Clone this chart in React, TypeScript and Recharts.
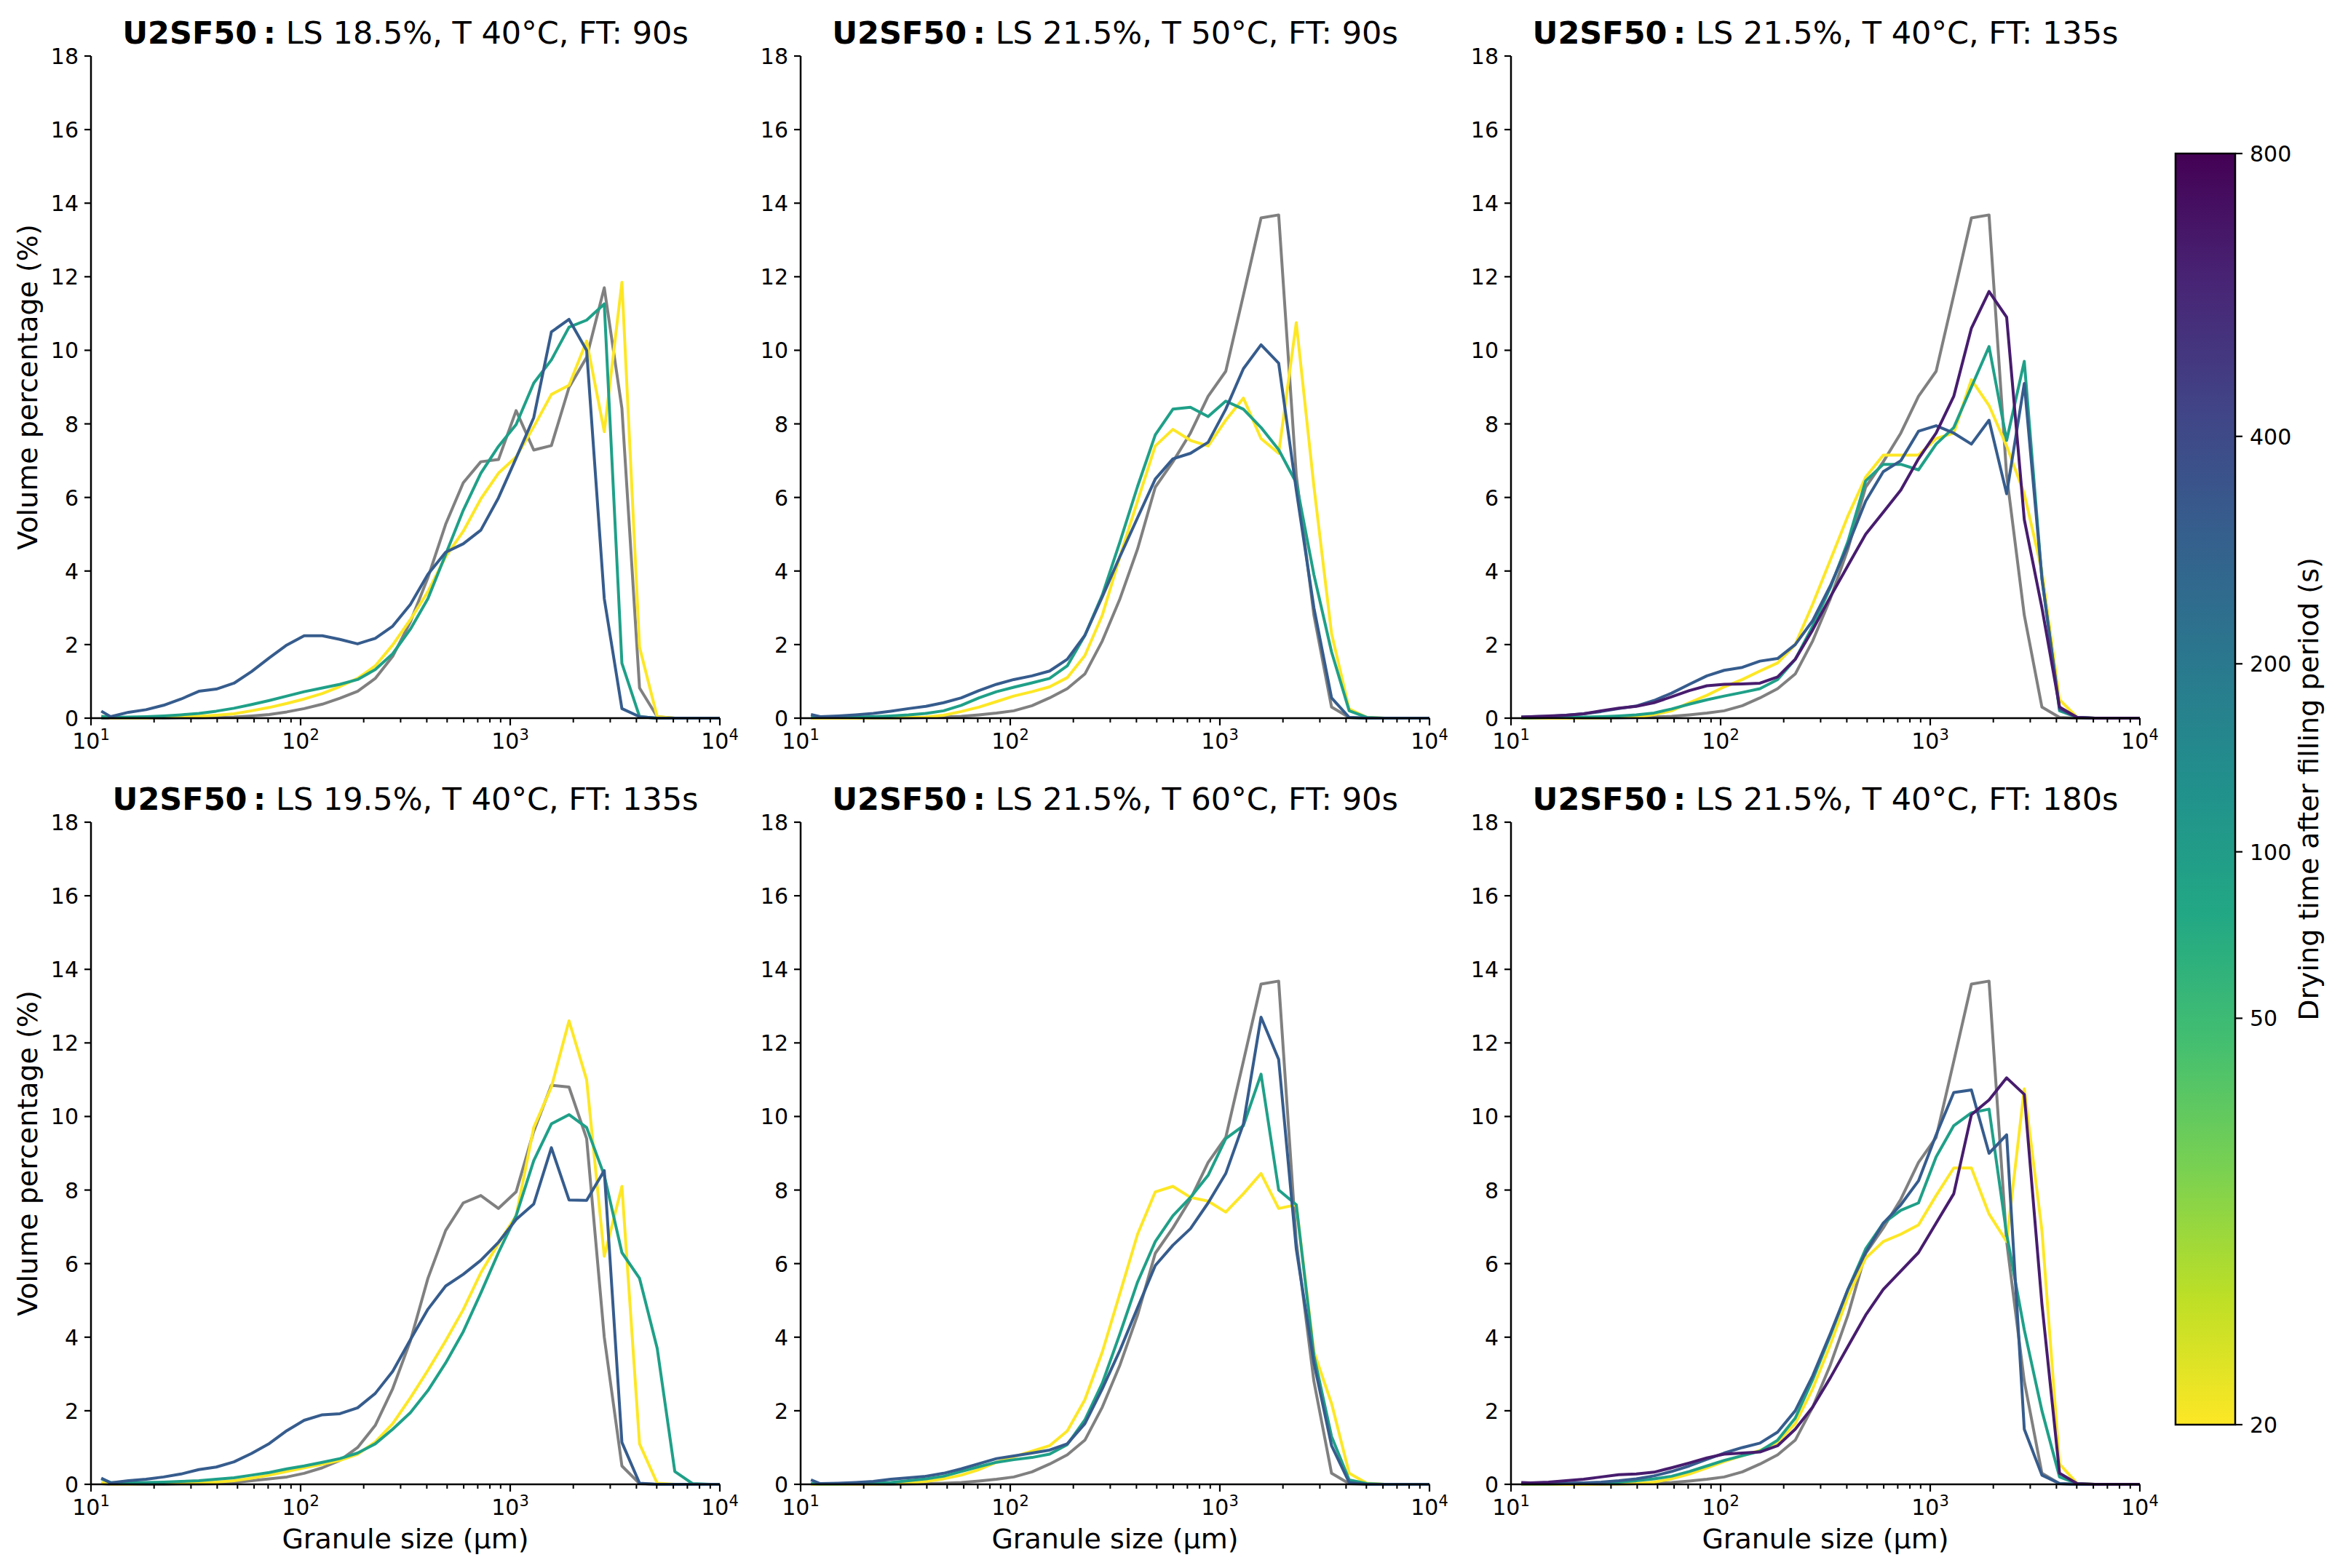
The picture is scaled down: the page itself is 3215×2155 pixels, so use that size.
import { LineChart, Line, XAxis, YAxis } from "recharts";

// granule size classes (µm), shared by all panels
const sizes = [
  11.2, 12.4, 15.1, 18.3, 22.2, 26.9, 32.7, 39.6, 48.1, 58.4, 70.9, 86.0, 104,
  127, 154, 187, 227, 275, 334, 405, 492, 597, 724, 879, 1067, 1295, 1572, 1908,
  2315, 2810, 3411, 4140, 5025, 6098, 7402, 8984, 10904,
];

const majorTicks = [10, 100, 1000, 10000];
const minorTicks = [
  20, 30, 40, 50, 60, 70, 80, 90, 200, 300, 400, 500, 600, 700, 800, 900, 2000,
  3000, 4000, 5000, 6000, 7000, 8000, 9000,
];
const yTicks = [0, 2, 4, 6, 8, 10, 12, 14, 16, 18];
const cbTicks = [20, 50, 100, 200, 400, 800];

// reference curve (grey) used in the 21.5% panels
const refGrey = [0, 0, 0, 0, 0, 0, 0.01, 0.02, 0.03, 0.05, 0.09, 0.14, 0.2, 0.34, 0.55, 0.8, 1.2, 2.1, 3.25, 4.6, 6.28, 6.97, 7.75, 8.75, 9.43, 11.5, 13.6, 13.68, 6.6, 2.8, 0.3, 0.02, 0, 0, 0, 0, 0];

const p1Grey = [0, 0, 0, 0, 0, 0.01, 0.01, 0.02, 0.03, 0.06, 0.1, 0.17, 0.26, 0.38, 0.54, 0.73, 1.08, 1.68, 2.62, 3.82, 5.27, 6.4, 6.97, 7.03, 8.36, 7.29, 7.41, 8.99, 9.81, 11.7, 8.42, 0.82, 0.04, 0, 0, 0, 0];
const p1Yellow = [0.05, 0.01, 0.01, 0.01, 0.02, 0.03, 0.05, 0.08, 0.12, 0.2, 0.29, 0.4, 0.52, 0.67, 0.86, 1.08, 1.42, 1.99, 2.68, 3.44, 4.39, 5.08, 5.96, 6.66, 7.1, 7.92, 8.8, 9.05, 10.25, 7.79, 11.85, 1.93, 0.04, 0, 0, 0, 0];
const p1Teal = [0.05, 0.02, 0.03, 0.04, 0.06, 0.09, 0.13, 0.19, 0.27, 0.37, 0.48, 0.6, 0.72, 0.82, 0.92, 1.05, 1.32, 1.75, 2.42, 3.25, 4.45, 5.65, 6.66, 7.39, 7.98, 9.11, 9.74, 10.63, 10.82, 11.26, 1.49, 0.04, 0, 0, 0, 0, 0];
const p1Blue = [0.19, 0.04, 0.16, 0.23, 0.35, 0.52, 0.73, 0.79, 0.95, 1.27, 1.64, 1.99, 2.24, 2.24, 2.14, 2.02, 2.17, 2.5, 3.09, 3.91, 4.51, 4.74, 5.11, 5.99, 7.07, 8.17, 10.5, 10.84, 10.0, 3.25, 0.26, 0.04, 0, 0, 0, 0, 0];

const p2Yellow = [0, 0, 0, 0, 0.01, 0.01, 0.02, 0.03, 0.08, 0.18, 0.3, 0.45, 0.6, 0.72, 0.85, 1.1, 1.7, 2.8, 4.4, 5.9, 7.4, 7.85, 7.55, 7.4, 8.1, 8.7, 7.6, 7.2, 10.75, 6.3, 2.3, 0.25, 0.02, 0, 0, 0, 0];
const p2Teal = [0.03, 0.02, 0.02, 0.03, 0.04, 0.06, 0.09, 0.13, 0.2, 0.35, 0.55, 0.72, 0.84, 0.96, 1.08, 1.42, 2.25, 3.35, 4.8, 6.3, 7.7, 8.4, 8.45, 8.2, 8.62, 8.4, 7.9, 7.3, 6.4, 3.9, 1.8, 0.2, 0.02, 0, 0, 0, 0];
const p2Blue = [0.1, 0.04, 0.06, 0.09, 0.13, 0.19, 0.26, 0.32, 0.42, 0.55, 0.75, 0.92, 1.05, 1.15, 1.28, 1.6, 2.25, 3.3, 4.4, 5.45, 6.5, 7.05, 7.2, 7.5, 8.4, 9.5, 10.15, 9.65, 6.2, 3.0, 0.55, 0.02, 0, 0, 0, 0, 0];

const p3Yellow = [0, 0, 0, 0, 0.01, 0.01, 0.02, 0.03, 0.1, 0.2, 0.42, 0.62, 0.85, 1.05, 1.28, 1.5, 2.0, 3.1, 4.3, 5.5, 6.55, 7.15, 7.15, 7.15, 7.6, 7.75, 9.2, 8.5, 7.4, 6.1, 4.0, 0.5, 0.02, 0, 0, 0, 0];
const p3Teal = [0.01, 0.01, 0.02, 0.02, 0.03, 0.04, 0.06, 0.09, 0.14, 0.25, 0.38, 0.5, 0.6, 0.7, 0.8, 1.05, 1.6, 2.5, 3.55, 4.8, 6.45, 6.9, 6.9, 6.75, 7.45, 7.9, 9.0, 10.1, 7.55, 9.7, 3.8, 0.2, 0.02, 0, 0, 0, 0];
const p3Blue = [0.03, 0.04, 0.05, 0.08, 0.12, 0.18, 0.26, 0.33, 0.48, 0.68, 0.92, 1.15, 1.3, 1.38, 1.55, 1.62, 2.0, 2.65, 3.6, 4.7, 5.9, 6.7, 7.0, 7.8, 7.95, 7.75, 7.45, 8.1, 6.1, 9.1, 3.8, 0.25, 0.02, 0, 0, 0, 0];
const p3Purple = [0.03, 0.04, 0.06, 0.08, 0.12, 0.2, 0.27, 0.32, 0.42, 0.58, 0.75, 0.88, 0.92, 0.93, 0.95, 1.12, 1.6, 2.4, 3.3, 4.15, 5.0, 5.6, 6.2, 7.05, 7.75, 8.75, 10.6, 11.6, 10.9, 5.4, 3.0, 0.3, 0.02, 0, 0, 0, 0];

const p4Grey = [0.02, 0, 0, 0, 0, 0.01, 0.01, 0.02, 0.05, 0.1, 0.15, 0.2, 0.3, 0.45, 0.65, 1.0, 1.6, 2.6, 3.9, 5.6, 6.9, 7.65, 7.85, 7.5, 7.95, 9.6, 10.85, 10.8, 9.4, 4.0, 0.5, 0.02, 0, 0, 0, 0, 0];
const p4Yellow = [0.05, 0.01, 0.01, 0.02, 0.02, 0.03, 0.04, 0.06, 0.1, 0.17, 0.25, 0.35, 0.45, 0.55, 0.65, 0.82, 1.15, 1.65, 2.35, 3.1, 3.9, 4.75, 5.75, 6.55, 7.3, 9.7, 10.8, 12.6, 11.0, 6.2, 8.1, 1.1, 0.03, 0, 0, 0, 0];
const p4Teal = [0.15, 0.05, 0.04, 0.05, 0.06, 0.08, 0.1, 0.14, 0.18, 0.25, 0.32, 0.42, 0.5, 0.6, 0.7, 0.85, 1.1, 1.5, 1.95, 2.55, 3.3, 4.15, 5.2, 6.3, 7.3, 8.8, 9.8, 10.05, 9.7, 8.4, 6.3, 5.6, 3.7, 0.35, 0.02, 0, 0];
const p4Blue = [0.17, 0.04, 0.1, 0.14, 0.2, 0.28, 0.4, 0.47, 0.61, 0.84, 1.11, 1.46, 1.74, 1.89, 1.92, 2.08, 2.47, 3.07, 3.93, 4.76, 5.39, 5.71, 6.09, 6.58, 7.2, 7.62, 9.15, 7.73, 7.72, 8.53, 1.14, 0.03, 0, 0, 0, 0, 0];

const p5Yellow = [0, 0, 0, 0.01, 0.01, 0.02, 0.04, 0.08, 0.15, 0.25, 0.4, 0.6, 0.75, 0.9, 1.05, 1.45, 2.3, 3.6, 5.2, 6.8, 7.95, 8.1, 7.8, 7.7, 7.4, 7.9, 8.45, 7.5, 7.6, 3.6, 2.2, 0.3, 0.03, 0, 0, 0, 0];
const p5Teal = [0.02, 0.01, 0.01, 0.02, 0.03, 0.05, 0.1, 0.15, 0.22, 0.35, 0.48, 0.6, 0.67, 0.73, 0.82, 1.08, 1.75, 2.75, 4.1, 5.5, 6.6, 7.3, 7.8, 8.4, 9.4, 9.75, 11.15, 8.0, 7.6, 3.5, 1.3, 0.12, 0.02, 0, 0, 0, 0];
const p5Blue = [0.12, 0.02, 0.03, 0.05, 0.08, 0.14, 0.18, 0.22, 0.3, 0.42, 0.56, 0.7, 0.77, 0.85, 0.93, 1.1, 1.65, 2.6, 3.65, 4.8, 5.95, 6.5, 6.95, 7.65, 8.45, 9.8, 12.7, 11.55, 6.4, 3.3, 1.05, 0.05, 0, 0, 0, 0, 0];

const p6Yellow = [0, 0, 0, 0, 0, 0.01, 0.01, 0.02, 0.06, 0.15, 0.28, 0.45, 0.62, 0.78, 0.92, 1.15, 1.65, 2.6, 3.8, 5.1, 6.15, 6.6, 6.8, 7.05, 7.85, 8.6, 8.6, 7.35, 6.6, 10.75, 6.9, 0.55, 0.02, 0, 0, 0, 0];
const p6Teal = [0.01, 0.01, 0.01, 0.02, 0.03, 0.04, 0.06, 0.1, 0.15, 0.22, 0.35, 0.5, 0.65, 0.78, 0.9, 1.2, 1.8, 2.85, 4.05, 5.3, 6.4, 7.1, 7.45, 7.65, 8.9, 9.75, 10.1, 10.2, 6.8, 4.2, 2.0, 0.2, 0.02, 0, 0, 0, 0];
const p6Blue = [0.02, 0.02, 0.02, 0.03, 0.04, 0.06, 0.1, 0.15, 0.23, 0.35, 0.5, 0.68, 0.85, 1.0, 1.12, 1.42, 2.0, 2.95, 4.1, 5.3, 6.3, 7.1, 7.6, 8.25, 9.5, 10.65, 10.72, 9.0, 9.5, 1.5, 0.25, 0.02, 0, 0, 0, 0, 0];
const p6Purple = [0.05, 0.04, 0.06, 0.1, 0.14, 0.2, 0.26, 0.28, 0.33, 0.45, 0.58, 0.72, 0.82, 0.85, 0.88, 1.05, 1.5, 2.1, 2.9, 3.75, 4.6, 5.3, 5.8, 6.3, 7.1, 7.9, 10.05, 10.45, 11.05, 10.6, 4.9, 0.3, 0.02, 0, 0, 0, 0];

const GREY = "#808080";
const YELLOW = "#fde725";
const TEAL = "#1fa088";
const BLUE = "#365c8d";
const PURPLE = "#471c6e";

const panels = [
  { title: "LS 18.5%, T 40°C, FT: 90s", series: [[p1Grey, GREY], [p1Yellow, YELLOW], [p1Teal, TEAL], [p1Blue, BLUE]] },
  { title: "LS 21.5%, T 50°C, FT: 90s", series: [[refGrey, GREY], [p2Yellow, YELLOW], [p2Teal, TEAL], [p2Blue, BLUE]] },
  { title: "LS 21.5%, T 40°C, FT: 135s", series: [[refGrey, GREY], [p3Yellow, YELLOW], [p3Teal, TEAL], [p3Blue, BLUE], [p3Purple, PURPLE]] },
  { title: "LS 19.5%, T 40°C, FT: 135s", series: [[p4Grey, GREY], [p4Yellow, YELLOW], [p4Teal, TEAL], [p4Blue, BLUE]] },
  { title: "LS 21.5%, T 60°C, FT: 90s", series: [[refGrey, GREY], [p5Yellow, YELLOW], [p5Teal, TEAL], [p5Blue, BLUE]] },
  { title: "LS 21.5%, T 40°C, FT: 180s", series: [[refGrey, GREY], [p6Yellow, YELLOW], [p6Teal, TEAL], [p6Blue, BLUE], [p6Purple, PURPLE]] },
];

const viridis = ["#440154", "#482475", "#414487", "#355f8d", "#2a788e", "#21918c", "#22a884", "#44bf70", "#7ad151", "#bddf26", "#fde725"];

const FONT = "DejaVu Sans";
const PLOT_W = 864;
const PLOT_H = 910;
const PAD_TOP = 30;
const colLeft = [125, 1100, 2076];
const rowTop = [77, 1130];
const CB = { x: 2989, w: 82, top: 211, bottom: 1958 };

// colour norm of the bar (power norm, gamma ~0.35)
const cbPos = (t: number) => CB.bottom - Math.pow((t - 20) / 780, 0.35) * (CB.bottom - CB.top);

function XTick(props: any) {
  const { x, y, payload } = props;
  const v = payload.value;
  if (!majorTicks.includes(v)) {
    return <line x1={x} x2={x} y1={y} y2={y + 6} stroke="#000" strokeWidth={2} />;
  }
  const exp = Math.round(Math.log10(v));
  return (
    <g>
      <line x1={x} x2={x} y1={y} y2={y + 10} stroke="#000" strokeWidth={2.2} />
      <text x={x} y={y + 42} textAnchor="middle" fontSize={30} fontFamily={FONT} fill="#000">
        10<tspan dy={-12} fontSize={21}>{exp}</tspan>
      </text>
    </g>
  );
}

function YTick(props: any) {
  const { x, y, payload } = props;
  return (
    <g>
      <line x1={x - 9} x2={x} y1={y} y2={y} stroke="#000" strokeWidth={2.2} />
      <text x={x - 17} y={y + 11} textAnchor="end" fontSize={30} fontFamily={FONT} fill="#000">
        {payload.value}
      </text>
    </g>
  );
}

function Panel({ index }: { index: number }) {
  const p = panels[index];
  const col = index % 3;
  const row = Math.floor(index / 3);
  const data = sizes.map((x, i) => {
    const d: any = { x };
    p.series.forEach((s, j) => (d["s" + j] = (s[0] as number[])[i]));
    return d;
  });
  const axisStyle = { stroke: "#000", strokeWidth: 2.5 };
  return (
    <div style={{ position: "absolute", left: colLeft[col] - 120, top: rowTop[row] - PAD_TOP }}>
      <LineChart width={120 + PLOT_W + 40} height={PAD_TOP + PLOT_H + 80} data={data} margin={{ top: PAD_TOP, right: 40, bottom: 0, left: 0 }}>
        <XAxis
          dataKey="x"
          type="number"
          scale="log"
          domain={[10, 10000]}
          allowDataOverflow
          ticks={[...majorTicks, ...minorTicks]}
          interval={0}
          tick={<XTick />}
          tickLine={false}
          tickSize={0}
          tickMargin={0}
          height={80}
          axisLine={axisStyle}
        />
        <XAxis
          xAxisId="top"
          orientation="top"
          dataKey="x"
          type="number"
          scale="log"
          domain={[10, 10000]}
          allowDataOverflow
          height={0}
          tick={false}
          tickLine={false}
          axisLine={axisStyle}
        />
        <YAxis
          type="number"
          domain={[0, 18]}
          ticks={yTicks}
          interval={0}
          tick={<YTick />}
          tickLine={false}
          tickSize={0}
          tickMargin={0}
          width={120}
          axisLine={axisStyle}
        />
        <YAxis
          yAxisId="right"
          orientation="right"
          type="number"
          domain={[0, 18]}
          width={0}
          tick={false}
          tickLine={false}
          axisLine={axisStyle}
        />
        {p.series.map((s, j) => (
          <Line
            key={j}
            type="linear"
            dataKey={"s" + j}
            stroke={s[1] as string}
            strokeWidth={4}
            strokeLinejoin="round"
            dot={false}
            activeDot={false}
            isAnimationActive={false}
          />
        ))}
      </LineChart>
    </div>
  );
}

export default function App() {
  return (
    <div style={{ position: "absolute", left: 0, top: 0, width: 3215, height: 2155, background: "#fff", fontFamily: FONT }}>
      <svg width={3215} height={2155} style={{ position: "absolute", left: 0, top: 0 }}>
        <defs>
          <linearGradient id="cbGrad" x1="0" y1="0" x2="0" y2="1">
            {viridis.map((c, i) => (
              <stop key={i} offset={i / (viridis.length - 1)} stopColor={c} />
            ))}
          </linearGradient>
        </defs>
        {panels.map((p, i) => {
          const cx = colLeft[i % 3] + PLOT_W / 2;
          const by = i < 3 ? 60 : 1113;
          return (
            <text key={i} x={cx} y={by} textAnchor="middle" fontSize={43} fontFamily={FONT} fill="#000">
              <tspan fontWeight="bold">{"U2SF50\u2009:"}</tspan>
              {" " + p.title}
            </text>
          );
        })}
        {rowTop.map((t, r) => (
          <text key={"yl" + r} transform={`translate(51, ${t + PLOT_H / 2}) rotate(-90)`} textAnchor="middle" fontSize={38} fontFamily={FONT} fill="#000">
            Volume percentage (%)
          </text>
        ))}
        {colLeft.map((l, c) => (
          <text key={"xl" + c} x={l + PLOT_W / 2} y={2128} textAnchor="middle" fontSize={38} fontFamily={FONT} fill="#000">
            Granule size (µm)
          </text>
        ))}
        <rect x={CB.x} y={CB.top} width={CB.w} height={CB.bottom - CB.top} fill="url(#cbGrad)" stroke="#000" strokeWidth={2.5} />
        {cbTicks.map((t) => {
          const y = cbPos(t);
          return (
            <g key={t}>
              <line x1={CB.x + CB.w} x2={CB.x + CB.w + 10} y1={y} y2={y} stroke="#000" strokeWidth={2.2} />
              <text x={CB.x + CB.w + 20} y={y + 11} fontSize={30} fontFamily={FONT} fill="#000">
                {t}
              </text>
            </g>
          );
        })}
        <text transform={`translate(3185, ${(CB.top + CB.bottom) / 2}) rotate(-90)`} textAnchor="middle" fontSize={38} fontFamily={FONT} fill="#000">
          Drying time after filling period (s)
        </text>
      </svg>
      {panels.map((_, i) => (
        <Panel key={i} index={i} />
      ))}
    </div>
  );
}
